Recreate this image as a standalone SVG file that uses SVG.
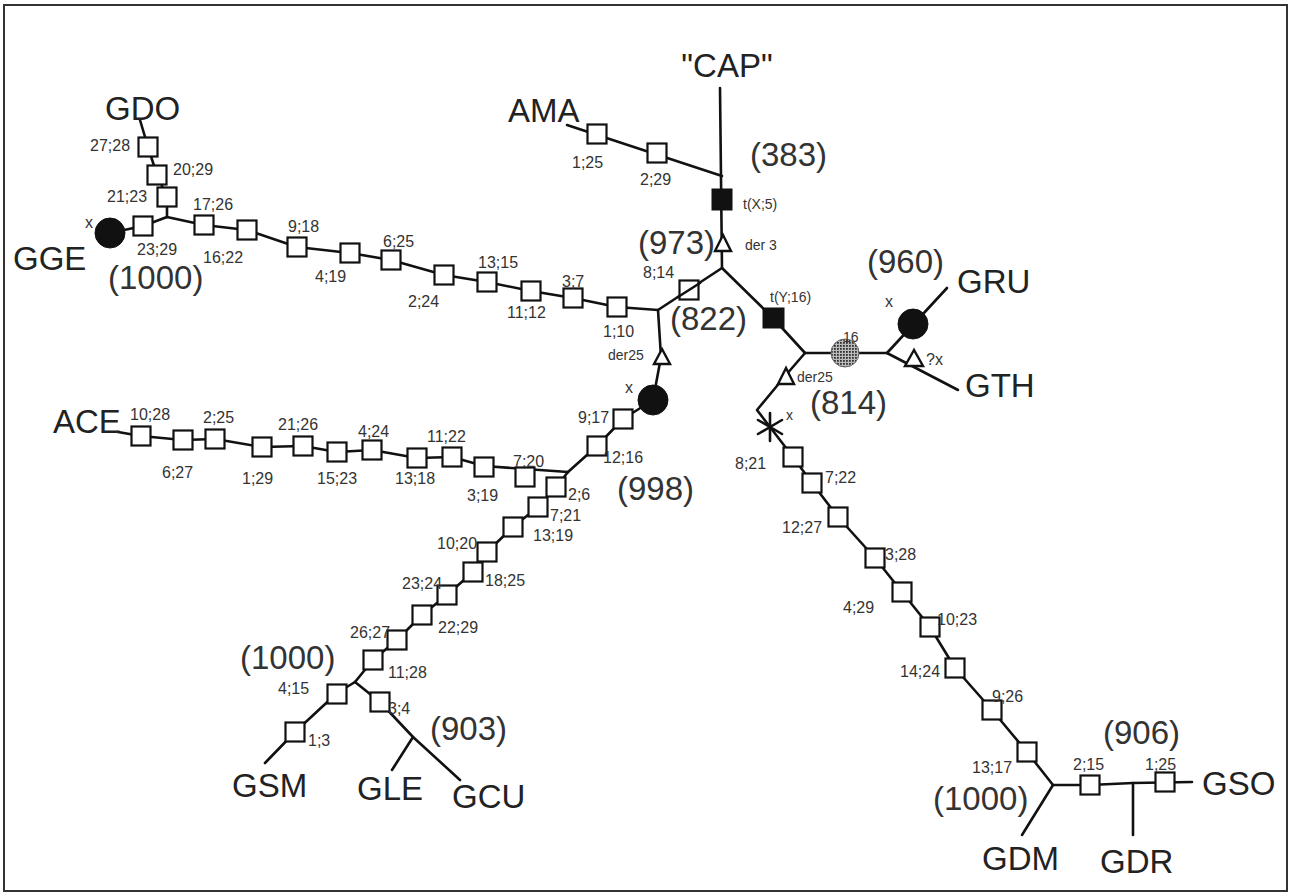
<svg xmlns="http://www.w3.org/2000/svg" xmlns:xlink="http://www.w3.org/1999/xlink" width="1292" height="896" viewBox="0 0 1292 896">
<style>
.ln{fill:none;stroke:#111;stroke-width:2.6;stroke-linejoin:round;stroke-linecap:round}
.sq{fill:#fff;stroke:#111;stroke-width:2.2}
.bk{fill:#111;stroke:#111;stroke-width:1}
.tri{fill:#fff;stroke:#111;stroke-width:2.4;stroke-linejoin:miter}
.big{font-family:"Liberation Sans",Arial,sans-serif;font-size:33px;fill:#222}
.num{font-family:"Liberation Sans",Arial,sans-serif;font-size:33px;fill:#333}
.sm{font-family:"Liberation Sans",Arial,sans-serif;font-size:16px;fill:#333}
.xs{font-family:"Liberation Sans",Arial,sans-serif;font-size:14px;fill:#333}
</style>
<defs>
<rect id="sq" class="sq" x="-9.5" y="-9.5" width="19" height="19"/>
<pattern id="dots" width="3" height="3" patternUnits="userSpaceOnUse">
<rect width="3" height="3" fill="#bbb"/>
<rect width="1.8" height="1.8" fill="#333"/>
</pattern>
</defs>
<rect x="0" y="0" width="1292" height="896" fill="#fff"/>
<rect x="4" y="5" width="1283" height="886" fill="none" stroke="#333" stroke-width="2"/>

<g id="connectors">
<path class="ln" d="M720,88 L722,268"/>
<path class="ln" d="M567,125 L722,176"/>
<path class="ln" d="M722,268 L658,310"/>
<path class="ln" d="M658,310 L617,307 L573,298 L531,291 L487,282 L444,275 L391,260 L350,253 L297,247 L247,230 L204,225 L167,217"/>
<path class="ln" d="M167,217 L143,226 L110,233"/>
<path class="ln" d="M167,217 L167,197 L157,175 L148,147 L140,120"/>
<path class="ln" d="M722,268 L773,318 L805,353"/>
<path class="ln" d="M805,353 L887,353"/>
<path class="ln" d="M887,353 L947,288"/>
<path class="ln" d="M887,353 L958,390"/>
<path class="ln" d="M805,353 L786,375 L757,410 L770,427 L793,457 L812,483 L838,517 L875,558 L902,592 L930,627 L955,668 L992,710 L1027,752 L1053,785"/>
<path class="ln" d="M1053,785 L1022,835"/>
<path class="ln" d="M1053,785 L1090,785 L1133,783 L1192,782"/>
<path class="ln" d="M1133,783 L1133,835"/>
<path class="ln" d="M658,310 L661,357 L653,400"/>
<path class="ln" d="M653,400 L623,419 L597,446 L568,472"/>
<path class="ln" d="M118,432 L141,436 L183,440 L215,439 L262,447 L303,446 L337,452 L372,450 L417,458 L452,457 L484,466 L568,472"/>
<path class="ln" d="M568,472 L556,487 L538,507 L513,527 L487,552 L473,572 L447,595 L422,615 L397,640 L373,660 L355,682"/>
<path class="ln" d="M355,682 L337,693 L295,732 L265,763"/>
<path class="ln" d="M355,682 L380,702 L413,737 L460,780"/>
<path class="ln" d="M413,737 L392,770"/>
</g>

<!-- taxa labels -->
<g id="CAP"><text class="big" x="727" y="77" text-anchor="middle">"CAP"</text></g>
<g id="AMA"><text class="big" x="508" y="122">AMA</text></g>
<g id="GDO"><text class="big" x="105" y="120">GDO</text></g>
<g id="GGE"><text class="big" x="13" y="270">GGE</text>
<circle cx="110" cy="233" r="15" class="bk"/><text class="sm" x="85" y="228">x</text></g>
<g id="ACE"><text class="big" x="53" y="433">ACE</text></g>
<g id="GRU"><text class="big" x="957" y="293">GRU</text>
<circle cx="913" cy="324" r="15" class="bk"/><text class="sm" x="885" y="307">x</text></g>
<g id="GTH"><text class="big" x="965" y="397">GTH</text>
<path class="tri" d="M914,350 L905,366 L923,366 Z"/><text class="sm" x="926" y="365">?x</text></g>
<g id="GSM"><text class="big" x="232" y="797">GSM</text></g>
<g id="GLE"><text class="big" x="357" y="800">GLE</text></g>
<g id="GCU"><text class="big" x="452" y="808">GCU</text></g>
<g id="GDM"><text class="big" x="982" y="870">GDM</text></g>
<g id="GDR"><text class="big" x="1100" y="873">GDR</text></g>
<g id="GSO"><text class="big" x="1202" y="795">GSO</text></g>

<!-- bootstrap values -->
<g id="b383"><text class="num" x="750" y="166">(383)</text></g>
<g id="b973"><text class="num" x="638" y="254">(973)</text></g>
<g id="b822"><text class="num" x="670" y="330">(822)</text></g>
<g id="b960"><text class="num" x="867" y="273">(960)</text></g>
<g id="b814"><text class="num" x="810" y="414">(814)</text></g>
<g id="b998"><text class="num" x="617" y="500">(998)</text></g>
<g id="b1000a"><text class="num" x="108" y="289">(1000)</text></g>
<g id="b1000b"><text class="num" x="240" y="669">(1000)</text></g>
<g id="b903"><text class="num" x="430" y="740">(903)</text></g>
<g id="b906"><text class="num" x="1103" y="744">(906)</text></g>
<g id="b1000c"><text class="num" x="933" y="810">(1000)</text></g>

<!-- special markers -->
<g id="tX5"><rect class="bk" x="712" y="189" width="20" height="21"/><text class="xs" x="743" y="209">t(X;5)</text></g>
<g id="der3"><path class="tri" d="M723,235 L715,251 L731,251 Z"/><text class="xs" x="745" y="250">der 3</text></g>
<g id="tY16"><rect class="bk" x="763" y="308" width="21" height="20"/><text class="xs" x="770" y="302">t(Y;16)</text></g>
<g id="c16"><circle cx="845" cy="353" r="14" fill="url(#dots)" stroke="#666" stroke-width="1"/><text class="xs" x="843" y="342">16</text></g>
<g id="derC"><path class="tri" d="M786,368 L778,384 L794,384 Z"/><text class="xs" x="797" y="382">der25</text></g>
<g id="derB"><path class="tri" d="M662,349 L654,364 L670,364 Z"/><text class="xs" x="608" y="360">der25</text></g>
<g id="c998"><circle cx="653" cy="400" r="15" class="bk"/><text class="sm" x="625" y="393">x</text></g>
<g id="star"><path class="ln" d="M770,413 L770,441 M758,420 L782,434 M758,434 L782,420" stroke-width="3"/><text class="xs" x="786" y="420">x</text></g>

<!-- AMA branch -->
<g id="s1-25a"><use href="#sq" x="597" y="134"/><text class="sm" x="572" y="168">1;25</text></g>
<g id="s2-29a"><use href="#sq" x="657" y="153"/><text class="sm" x="640" y="185">2;29</text></g>
<g id="s8-14"><use href="#sq" x="689" y="290"/><path class="ln" d="M700,283 L678,297"/><text class="sm" x="643" y="278">8;14</text></g>

<!-- left upper chain -->
<g id="s1-10"><use href="#sq" x="617" y="307"/><text class="sm" x="603" y="337">1;10</text></g>
<g id="s3-7"><use href="#sq" x="573" y="298"/><text class="sm" x="562" y="287">3;7</text></g>
<g id="s11-12"><use href="#sq" x="531" y="291"/><text class="sm" x="507" y="318">11;12</text></g>
<g id="s13-15"><use href="#sq" x="487" y="282"/><text class="sm" x="478" y="268">13;15</text></g>
<g id="s2-24"><use href="#sq" x="444" y="275"/><text class="sm" x="408" y="307">2;24</text></g>
<g id="s6-25"><use href="#sq" x="391" y="260"/><text class="sm" x="383" y="247">6;25</text></g>
<g id="s4-19"><use href="#sq" x="350" y="253"/><text class="sm" x="315" y="282">4;19</text></g>
<g id="s9-18"><use href="#sq" x="297" y="247"/><text class="sm" x="288" y="232">9;18</text></g>
<g id="s16-22"><use href="#sq" x="247" y="230"/><text class="sm" x="203" y="263">16;22</text></g>
<g id="s17-26"><use href="#sq" x="204" y="225"/><text class="sm" x="193" y="210">17;26</text></g>
<g id="s23-29"><use href="#sq" x="143" y="226"/><text class="sm" x="137" y="255">23;29</text></g>
<g id="s21-23"><use href="#sq" x="167" y="197"/><text class="sm" x="107" y="202">21;23</text></g>
<g id="s20-29"><use href="#sq" x="157" y="175"/><text class="sm" x="173" y="175">20;29</text></g>
<g id="s27-28"><use href="#sq" x="148" y="147"/><text class="sm" x="90" y="151">27;28</text></g>

<!-- ACE chain -->
<g id="s10-28"><use href="#sq" x="141" y="436"/><text class="sm" x="130" y="420">10;28</text></g>
<g id="s6-27"><use href="#sq" x="183" y="440"/><text class="sm" x="162" y="478">6;27</text></g>
<g id="s2-25"><use href="#sq" x="215" y="439"/><text class="sm" x="203" y="423">2;25</text></g>
<g id="s1-29"><use href="#sq" x="262" y="447"/><text class="sm" x="242" y="484">1;29</text></g>
<g id="s21-26"><use href="#sq" x="303" y="446"/><text class="sm" x="278" y="430">21;26</text></g>
<g id="s15-23"><use href="#sq" x="337" y="452"/><text class="sm" x="317" y="484">15;23</text></g>
<g id="s4-24"><use href="#sq" x="372" y="450"/><text class="sm" x="358" y="437">4;24</text></g>
<g id="s13-18"><use href="#sq" x="417" y="458"/><text class="sm" x="395" y="484">13;18</text></g>
<g id="s11-22"><use href="#sq" x="452" y="457"/><text class="sm" x="427" y="442">11;22</text></g>
<g id="s3-19"><use href="#sq" x="484" y="467"/><text class="sm" x="467" y="501">3;19</text></g>
<g id="s7-20"><use href="#sq" x="525" y="477"/><text class="sm" x="513" y="467">7;20</text></g>

<!-- central branch -->
<g id="s9-17"><use href="#sq" x="623" y="419"/><text class="sm" x="578" y="423">9;17</text></g>
<g id="s12-16"><use href="#sq" x="597" y="446"/><text class="sm" x="603" y="463">12;16</text></g>
<g id="s2-6"><use href="#sq" x="556" y="487"/><text class="sm" x="568" y="500">2;6</text></g>
<g id="s7-21"><use href="#sq" x="538" y="507"/><text class="sm" x="550" y="521">7;21</text></g>
<g id="s13-19"><use href="#sq" x="513" y="527"/><text class="sm" x="533" y="541">13;19</text></g>
<g id="s10-20"><use href="#sq" x="487" y="552"/><text class="sm" x="437" y="549">10;20</text></g>
<g id="s18-25"><use href="#sq" x="473" y="572"/><text class="sm" x="485" y="586">18;25</text></g>
<g id="s23-24"><use href="#sq" x="447" y="595"/><text class="sm" x="402" y="589">23;24</text></g>
<g id="s22-29"><use href="#sq" x="422" y="615"/><text class="sm" x="438" y="633">22;29</text></g>
<g id="s26-27"><use href="#sq" x="397" y="640"/><text class="sm" x="350" y="638">26;27</text></g>
<g id="s11-28"><use href="#sq" x="373" y="660"/><text class="sm" x="388" y="678">11;28</text></g>
<g id="s4-15"><use href="#sq" x="337" y="694"/><text class="sm" x="278" y="694">4;15</text></g>
<g id="s1-3"><use href="#sq" x="295" y="732"/><text class="sm" x="308" y="746">1;3</text></g>
<g id="s3-4"><use href="#sq" x="380" y="702"/><text class="sm" x="388" y="714">3;4</text></g>

<!-- right chain -->
<g id="s8-21"><use href="#sq" x="793" y="457"/><text class="sm" x="735" y="469">8;21</text></g>
<g id="s7-22"><use href="#sq" x="812" y="483"/><text class="sm" x="825" y="483">7;22</text></g>
<g id="s12-27"><use href="#sq" x="838" y="517"/><text class="sm" x="782" y="533">12;27</text></g>
<g id="s3-28"><use href="#sq" x="875" y="558"/><text class="sm" x="885" y="560">3;28</text></g>
<g id="s4-29"><use href="#sq" x="902" y="592"/><text class="sm" x="843" y="613">4;29</text></g>
<g id="s10-23"><use href="#sq" x="930" y="627"/><text class="sm" x="937" y="625">10;23</text></g>
<g id="s14-24"><use href="#sq" x="955" y="668"/><text class="sm" x="900" y="677">14;24</text></g>
<g id="s9-26"><use href="#sq" x="992" y="710"/><text class="sm" x="992" y="702">9;26</text></g>
<g id="s13-17"><use href="#sq" x="1027" y="752"/><text class="sm" x="972" y="773">13;17</text></g>
<g id="s2-15"><use href="#sq" x="1090" y="785"/><text class="sm" x="1073" y="770">2;15</text></g>
<g id="s1-25b"><use href="#sq" x="1165" y="782"/><text class="sm" x="1145" y="770">1;25</text></g>
</svg>
